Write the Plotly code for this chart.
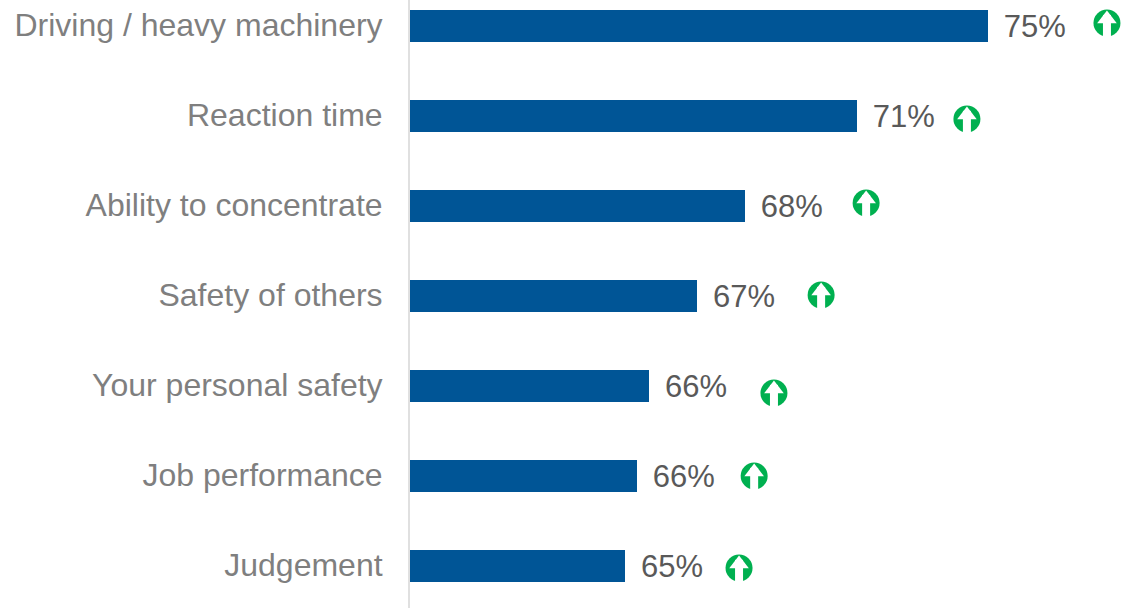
import plotly.graph_objects as go

categories = ["Driving / heavy machinery", "Reaction time", "Ability to concentrate",
              "Safety of others", "Your personal safety", "Job performance", "Judgement"]
# Bar lengths (on the chart's hidden value scale)
bar_values = [75.08, 71.44, 68.33, 67.0, 65.67, 65.33, 65.0]
value_labels = ["75%", "71%", "68%", "67%", "66%", "66%", "65%"]
# Arrow icon centres, on the same scales
arrow_x = [78.39, 74.50, 71.70, 70.45, 69.14, 68.59, 68.17]
arrow_row_offset = [-0.033, 0.033, -0.033, -0.011, 0.078, 0.0, 0.022]

rows = list(range(len(categories)))
arrow_y = [r + o for r, o in zip(rows, arrow_row_offset)]

BLUE = "#005596"
GREEN = "#00B050"
FONT = "Liberation Sans"
PX_X = 1 / 36   # value units per pixel
PX_Y = 1 / 90   # row units per pixel

fig = go.Figure()
fig.add_bar(y=rows, x=bar_values, base=0, orientation="h", width=32 * PX_Y,
            marker=dict(color=BLUE, line=dict(width=0)), hoverinfo="skip")
fig.add_scatter(x=[v + 16 * PX_X for v in bar_values], y=[r + 3 * PX_Y for r in rows],
                mode="text", text=value_labels, textposition="middle right",
                textfont=dict(family=FONT, size=31, color="#595959"), hoverinfo="skip",
                cliponaxis=False)
fig.add_scatter(x=arrow_x, y=arrow_y, mode="markers", hoverinfo="skip", cliponaxis=False,
                marker=dict(symbol="circle", size=27, color=GREEN, line=dict(width=0)))
fig.add_scatter(x=arrow_x, y=[y + 4.5 * PX_Y for y in arrow_y], mode="markers", hoverinfo="skip",
                cliponaxis=False,
                marker=dict(symbol="line-ns", size=18, line=dict(width=8, color="white")))
fig.add_scatter(x=arrow_x, y=[y - 4 * PX_Y for y in arrow_y], mode="markers", hoverinfo="skip",
                cliponaxis=False,
                marker=dict(symbol="triangle-up", size=17, color="white", line=dict(width=0)))

fig.update_layout(
    width=1122, height=608, showlegend=False, bargap=0,
    margin=dict(l=410, r=0, t=0, b=0, pad=0),
    paper_bgcolor="white", plot_bgcolor="white",
    xaxis=dict(range=[59.03, 59.03 + 712 * PX_X], visible=False, fixedrange=True),
    yaxis=dict(range=[6.467, -0.289], tickmode="array", tickvals=[r - PX_Y for r in rows],
               ticktext=categories,
               ticks="outside", ticklen=19, tickcolor="rgba(0,0,0,0)", showgrid=False, zeroline=False,
               showline=True, linecolor="#E0E0E0", linewidth=2,
               tickfont=dict(family=FONT, size=32, color="#7F7F7F"), fixedrange=True),
)
fig.write_html("out.html", config=dict(displayModeBar=False),
               post_script="document.body.style.margin='0';")
